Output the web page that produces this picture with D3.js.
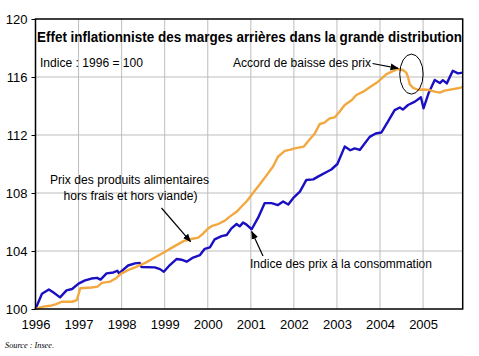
<!DOCTYPE html>
<html><head><meta charset="utf-8">
<script src="https://cdn.jsdelivr.net/npm/d3@7"></script>
<style>
body{margin:0;background:#fff;}
svg{display:block;font-family:"Liberation Sans",Arial,sans-serif;}
</style></head>
<body><svg id="c" width="479" height="356"></svg>
<script>
const title = "Effet inflationniste des marges arrières dans la grande distribution";
const subtitle = "Indice : 1996 = 100";
const source = "Source : Insee.";
const xTicks = [1996,1997,1998,1999,2000,2001,2002,2003,2004,2005];
const yTicks = [100,104,108,112,116,120];

const cpiDates = [1996.00,1996.15,1996.31,1996.41,1996.57,1996.72,1996.85,1997.00,1997.15,1997.30,1997.43,1997.51,1997.65,1997.81,1997.90,1997.94,1998.15,1998.31,1998.42,1998.46,1998.77,1998.89,1998.98,1999.12,1999.28,1999.39,1999.51,1999.66,1999.82,1999.93,2000.05,2000.16,2000.32,2000.44,2000.55,2000.67,2000.74,2000.82,2000.90,2001.02,2001.17,2001.32,2001.48,2001.63,2001.75,2001.87,2002.00,2002.14,2002.29,2002.45,2002.56,2002.76,2002.87,2003.01,2003.18,2003.31,2003.41,2003.53,2003.76,2003.90,2004.03,2004.19,2004.34,2004.46,2004.53,2004.65,2004.81,2004.95,2005.01,2005.13,2005.27,2005.39,2005.46,2005.55,2005.69,2005.81,2005.92];
const cpiValues = [100.0,101.05,101.35,101.15,100.8,101.28,101.38,101.75,101.97,102.1,102.15,102.03,102.46,102.52,102.64,102.46,103.0,103.15,103.18,102.9,102.87,102.75,102.57,103.03,103.45,103.4,103.26,103.55,103.72,104.15,104.25,104.8,105.03,105.1,105.56,105.86,105.7,105.96,105.82,105.5,106.3,107.3,107.3,107.17,107.42,107.2,107.7,108.1,108.9,108.94,109.13,109.45,109.62,110.0,111.2,110.95,111.08,110.97,111.87,112.1,112.17,112.95,113.72,113.9,113.75,114.07,114.3,114.6,113.84,114.9,115.8,115.58,115.78,115.56,116.43,116.25,116.3];

const foodDates = [1996.00,1996.18,1996.34,1996.48,1996.61,1996.85,1996.96,1997.04,1997.30,1997.44,1997.54,1997.73,1997.86,1997.98,1998.19,1998.34,1998.56,1998.77,1998.98,1999.21,1999.45,1999.62,1999.78,1999.89,2000.01,2000.10,2000.24,2000.40,2000.51,2000.67,2000.78,2000.91,2001.05,2001.21,2001.36,2001.52,2001.63,2001.79,2001.90,2002.02,2002.23,2002.37,2002.48,2002.60,2002.71,2002.83,2002.95,2003.06,2003.18,2003.34,2003.45,2003.61,2003.76,2003.92,2004.02,2004.15,2004.30,2004.41,2004.53,2004.61,2004.65,2004.69,2004.77,2004.88,2005.00,2005.15,2005.27,2005.39,2005.50,2005.66,2005.81,2005.92];
const foodValues = [100.0,100.16,100.22,100.34,100.5,100.5,100.62,101.43,101.48,101.54,101.8,101.89,102.1,102.42,102.74,102.9,103.2,103.55,103.9,104.3,104.7,104.83,104.92,105.2,105.56,105.73,105.86,106.09,106.37,106.7,107.05,107.45,108.0,108.6,109.2,109.85,110.5,110.9,110.97,111.08,111.2,111.7,112.08,112.76,112.85,113.15,113.22,113.6,114.07,114.4,114.76,114.99,115.3,115.6,115.85,116.2,116.4,116.55,116.48,116.3,116.0,115.5,115.25,115.12,115.14,115.1,114.99,114.92,115.06,115.15,115.22,115.3];

const svg = d3.select("#c");
const x = d3.scaleLinear().domain([1996, 2005.92]).range([35.5, 462.7]);
const y = d3.scaleLinear().domain([100, 120]).range([309, 19]);

const defs = svg.append("defs");
defs.append("marker").attr("id","ah").attr("viewBox","0 0 10 10").attr("refX",9).attr("refY",5)
  .attr("markerWidth",7).attr("markerHeight",7).attr("orient","auto")
  .append("path").attr("d","M0,1 L10,5 L0,9 Z").attr("fill","#000");

// grid
svg.append("g").selectAll("line").data(yTicks.filter(d=>d>100&&d<120)).join("line")
  .attr("x1",x(1996)).attr("x2",x(2005.92)).attr("y1",d=>y(d)).attr("y2",d=>y(d))
  .attr("stroke","#bdbdbd").attr("stroke-width",1);
svg.append("g").selectAll("line").data(xTicks.filter(d=>d>1996)).join("line")
  .attr("x1",d=>x(d)).attr("x2",d=>x(d)).attr("y1",y(100)).attr("y2",y(120))
  .attr("stroke","#bdbdbd").attr("stroke-width",1);

// axes
const ya = svg.append("g").attr("transform",`translate(${x(1996)},0)`)
  .call(d3.axisLeft(y).tickValues(yTicks).tickSize(4).tickPadding(4).tickFormat(d3.format("d")));
ya.select(".domain").remove();
ya.selectAll("line").attr("stroke","#000");
ya.selectAll("text").attr("font-size","13px").attr("fill","#000").attr("font-family","Liberation Sans, Arial, sans-serif");

const xa = svg.append("g").attr("transform",`translate(0,${y(100)})`)
  .call(d3.axisBottom(x).tickValues(xTicks).tickSize(0).tickPadding(11).tickFormat(d3.format("d")));
xa.select(".domain").remove();
xa.selectAll("text").attr("font-size","13px").attr("fill","#000").attr("font-family","Liberation Sans, Arial, sans-serif");

// lines
const line = d3.line().x(d=>x(d[0])).y(d=>y(d[1]));
svg.append("path").datum(d3.zip(cpiDates,cpiValues)).attr("d",line)
  .attr("fill","none").attr("stroke","#1a0fc2").attr("stroke-width",2.4).attr("stroke-linejoin","round");
svg.append("path").datum(d3.zip(foodDates,foodValues)).attr("d",line)
  .attr("fill","none").attr("stroke","#f2a83e").attr("stroke-width",2.4).attr("stroke-linejoin","round");

// frame
svg.append("rect").attr("x",x(1996)).attr("y",y(120)).attr("width",x(2005.92)-x(1996)).attr("height",y(100)-y(120))
  .attr("fill","none").attr("stroke","#000").attr("stroke-width",1.5);

// title & texts
svg.append("text").attr("x",37).attr("y",42).attr("font-weight","bold").attr("font-size","14px")
  .attr("textLength",425).attr("lengthAdjust","spacingAndGlyphs").text(title);
svg.append("text").attr("x",40).attr("y",67).attr("font-size","12.5px")
  .attr("textLength",103).attr("lengthAdjust","spacingAndGlyphs").text(subtitle);

svg.append("text").attr("x",233).attr("y",67).attr("font-size","12.5px")
  .attr("textLength",138).attr("lengthAdjust","spacingAndGlyphs").text("Accord de baisse des prix");
svg.append("line").attr("x1",372.5).attr("y1",63.5).attr("x2",x(2004.42)).attr("y2",y(116.6))
  .attr("stroke","#000").attr("stroke-width",1.2).attr("marker-end","url(#ah)");
svg.append("ellipse").attr("cx",x(2004.73)).attr("cy",y(116.2)).attr("rx",11.7).attr("ry",20)
  .attr("fill","none").attr("stroke","#000").attr("stroke-width",1);

svg.append("text").attr("x",50).attr("y",184).attr("font-size","12.5px")
  .attr("textLength",159).attr("lengthAdjust","spacingAndGlyphs").text("Prix des produits alimentaires");
svg.append("text").attr("x",63.5).attr("y",200).attr("font-size","12.5px")
  .attr("textLength",134).attr("lengthAdjust","spacingAndGlyphs").text("hors frais et hors viande)");
svg.append("line").attr("x1",161.5).attr("y1",208).attr("x2",x(1999.6)).attr("y2",y(104.65))
  .attr("stroke","#000").attr("stroke-width",1.2).attr("marker-end","url(#ah)");

svg.append("text").attr("x",250).attr("y",268).attr("font-size","12.5px")
  .attr("textLength",182).attr("lengthAdjust","spacingAndGlyphs").text("Indice des prix à la consommation");
svg.append("line").attr("x1",263).attr("y1",256).attr("x2",x(2001.02)).attr("y2",y(105.35))
  .attr("stroke","#000").attr("stroke-width",1.2).attr("marker-end","url(#ah)");

svg.append("text").attr("x",5).attr("y",348).attr("font-size","9px").attr("font-style","italic")
  .attr("font-family","Liberation Serif, Times New Roman, serif")
  .attr("textLength",49).attr("lengthAdjust","spacingAndGlyphs").text(source);
</script></body></html>
